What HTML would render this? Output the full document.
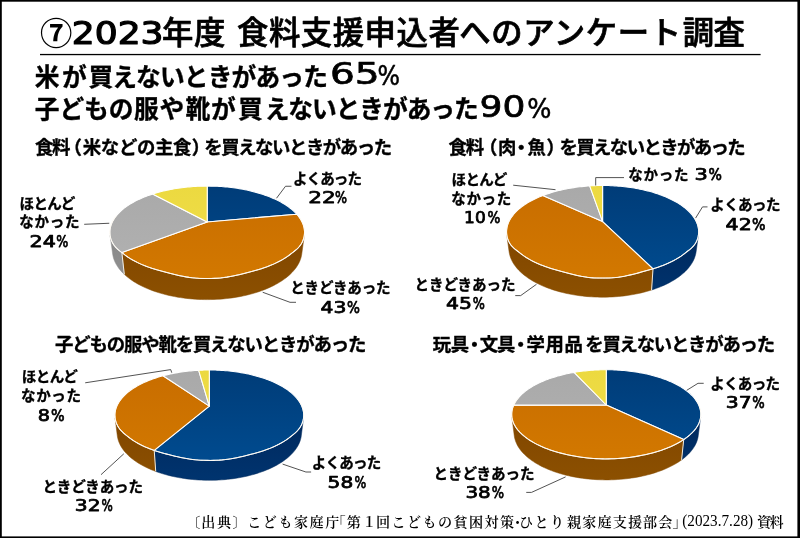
<!DOCTYPE html>
<html lang="ja">
<head>
<meta charset="utf-8">
<title>2023年度 食料支援申込者へのアンケート調査</title>
<style>
html,body{margin:0;padding:0;background:#fff;}
body{width:800px;height:538px;position:relative;overflow:hidden;font-family:"Liberation Sans","Noto Sans CJK JP",sans-serif;}
svg text{white-space:pre;}
</style>
</head>
<body>
<svg width="800" height="538" viewBox="0 0 800 538" style="display:block;position:absolute;left:0;top:0">
<rect x="0" y="0" width="800" height="538" fill="#000"/>
<rect x="1.8" y="1.7" width="795.6" height="534.7" fill="#fff"/>
<rect x="40" y="53.9" width="720.6" height="1.3" fill="#000"/>
<g id="pies">
<defs><linearGradient id="tb0" gradientUnits="userSpaceOnUse" x1="0" y1="186.1" x2="0" y2="278.5"><stop offset="0" stop-color="#003c78"/><stop offset="1" stop-color="#004b8f"/></linearGradient><linearGradient id="wb0" gradientUnits="userSpaceOnUse" x1="0" y1="222.0" x2="0" y2="299.6"><stop offset="0" stop-color="#002659"/><stop offset="1" stop-color="#00346f"/></linearGradient><linearGradient id="to0" gradientUnits="userSpaceOnUse" x1="0" y1="186.1" x2="0" y2="278.5"><stop offset="0" stop-color="#c86d00"/><stop offset="1" stop-color="#d27800"/></linearGradient><linearGradient id="wo0" gradientUnits="userSpaceOnUse" x1="0" y1="222.0" x2="0" y2="299.6"><stop offset="0" stop-color="#7e4400"/><stop offset="1" stop-color="#8c5000"/></linearGradient><linearGradient id="tg0" gradientUnits="userSpaceOnUse" x1="0" y1="186.1" x2="0" y2="278.5"><stop offset="0" stop-color="#a9a9a9"/><stop offset="1" stop-color="#b2b2b2"/></linearGradient><linearGradient id="wg0" gradientUnits="userSpaceOnUse" x1="0" y1="222.0" x2="0" y2="299.6"><stop offset="0" stop-color="#858585"/><stop offset="1" stop-color="#959595"/></linearGradient><linearGradient id="ty0" gradientUnits="userSpaceOnUse" x1="0" y1="186.1" x2="0" y2="278.5"><stop offset="0" stop-color="#ecd940"/><stop offset="1" stop-color="#f1e04e"/></linearGradient><linearGradient id="wy0" gradientUnits="userSpaceOnUse" x1="0" y1="222.0" x2="0" y2="299.6"><stop offset="0" stop-color="#a8992a"/><stop offset="1" stop-color="#b0a030"/></linearGradient></defs>
<path d="M304.32 235.29 L304.11 236.54 L303.83 237.79 L303.47 239.04 L303.04 240.27 L302.53 241.48 L301.95 242.68 L301.28 243.84 L300.54 244.98 L299.71 246.08 L298.81 247.14 L297.82 248.18 L296.75 249.18 L295.60 250.18 L294.37 251.17 L293.06 252.19 L291.66 253.28 L290.18 254.44 L288.62 255.61 L286.98 256.76 L285.26 257.90 L283.45 259.01 L281.57 260.10 L279.61 261.17 L277.57 262.21 L275.46 263.23 L273.27 264.22 L271.01 265.19 L268.67 266.12 L266.27 267.02 L263.80 267.88 L261.27 268.72 L258.67 269.51 L256.01 270.27 L253.29 271.01 L250.52 271.76 L247.70 272.52 L244.83 273.27 L241.91 274.00 L238.95 274.72 L235.95 275.40 L232.91 276.04 L229.84 276.63 L226.75 277.16 L223.63 277.61 L220.49 277.97 L217.33 278.23 L214.16 278.38 L210.98 278.47 L207.80 278.50 L204.61 278.48 L201.43 278.42 L198.25 278.30 L195.09 278.08 L191.94 277.75 L188.82 277.33 L185.71 276.84 L182.63 276.27 L179.58 275.65 L176.57 274.98 L173.59 274.27 L170.66 273.54 L167.77 272.80 L164.93 272.05 L162.14 271.29 L159.40 270.55 L156.72 269.80 L154.10 269.02 L151.54 268.20 L149.04 267.35 L146.62 266.46 L144.26 265.54 L141.97 264.59 L139.75 263.61 L137.61 262.60 L135.54 261.56 L133.55 260.50 L131.64 259.42 L129.81 258.31 L128.06 257.19 L126.38 256.04 L124.79 254.88 L123.28 253.70 L121.86 252.59 L124.31 274.36 L125.71 275.62 L127.19 276.86 L128.74 278.09 L130.38 279.29 L132.09 280.48 L133.88 281.65 L135.74 282.79 L137.68 283.90 L139.70 284.99 L141.78 286.05 L143.94 287.09 L146.17 288.09 L148.46 289.05 L150.82 289.99 L153.25 290.88 L155.73 291.74 L158.28 292.57 L160.88 293.35 L163.54 294.09 L166.24 294.79 L169.00 295.44 L171.80 296.05 L174.65 296.62 L177.53 297.14 L180.45 297.61 L183.41 298.03 L186.39 298.40 L189.40 298.73 L192.43 299.00 L195.48 299.22 L198.54 299.39 L201.61 299.51 L204.69 299.58 L207.78 299.60 L210.86 299.56 L213.94 299.48 L217.01 299.34 L220.07 299.15 L223.11 298.90 L226.13 298.61 L229.13 298.27 L232.10 297.88 L235.04 297.44 L237.95 296.95 L240.82 296.41 L243.65 295.83 L246.44 295.20 L249.17 294.53 L251.86 293.82 L254.50 293.06 L257.08 292.26 L259.60 291.43 L262.07 290.55 L264.47 289.64 L266.80 288.69 L269.07 287.72 L271.27 286.70 L273.41 285.66 L275.46 284.59 L277.45 283.49 L279.36 282.36 L281.20 281.21 L282.96 280.04 L284.64 278.85 L286.25 277.63 L287.77 276.40 L289.22 275.15 L290.59 273.88 L291.88 272.61 L293.09 271.31 L294.22 270.01 L295.27 268.70 L296.25 267.38 L297.14 266.06 L297.96 264.73 L298.69 263.39 L299.36 262.05 L299.94 260.71 L300.45 259.37 L300.89 258.04 L301.25 256.70 L301.54 255.36 L301.75 254.04 Z" fill="url(#wo0)" stroke="#844a00" stroke-width="0.5" stroke-linejoin="round"/>
<path d="M121.86 252.59 L120.56 251.59 L119.35 250.62 L118.20 249.67 L117.14 248.71 L116.15 247.73 L115.23 246.73 L114.39 245.69 L113.62 244.63 L112.93 243.53 L112.31 242.40 L111.76 241.25 L111.29 240.08 L110.88 238.89 L110.54 237.70 L110.28 236.50 L110.08 235.29 L112.65 254.04 L112.85 255.31 L113.13 256.59 L113.47 257.88 L113.88 259.16 L114.35 260.45 L114.90 261.74 L115.52 263.02 L116.20 264.31 L116.96 265.59 L117.80 266.86 L118.70 268.13 L119.68 269.40 L120.72 270.65 L121.85 271.90 L123.04 273.14 L124.31 274.36 Z" fill="url(#wg0)" stroke="#8c8c8c" stroke-width="0.5" stroke-linejoin="round"/>
<path d="M121.86 252.59 L124.31 274.36" stroke="#f6f2ea" stroke-width="1.0" fill="none" opacity="0.95"/>
<path d="M207.20 222.00 L207.20 186.10 L209.23 186.11 L211.25 186.14 L213.27 186.19 L215.29 186.26 L217.31 186.35 L219.33 186.46 L221.34 186.59 L223.35 186.74 L225.35 186.91 L227.35 187.10 L229.34 187.31 L231.32 187.54 L233.30 187.79 L235.26 188.06 L237.22 188.35 L239.17 188.66 L241.11 188.99 L243.03 189.35 L244.95 189.72 L246.85 190.11 L248.74 190.52 L250.61 190.95 L252.47 191.40 L254.32 191.87 L256.14 192.37 L257.95 192.88 L259.75 193.41 L261.52 193.96 L263.27 194.54 L265.00 195.13 L266.71 195.74 L268.40 196.38 L270.06 197.03 L271.70 197.70 L273.31 198.40 L274.90 199.11 L276.46 199.84 L277.99 200.59 L279.49 201.37 L280.96 202.16 L282.39 202.97 L283.80 203.80 L285.17 204.65 L286.50 205.52 L287.80 206.40 L289.06 207.31 L290.28 208.23 L291.46 209.17 L292.59 210.14 L293.69 211.11 L294.74 212.11 L295.74 213.12 L296.70 214.15 Z" fill="url(#tb0)" stroke="#ffffff" stroke-width="1.05" stroke-linejoin="round"/>
<path d="M207.20 222.00 L296.70 214.15 L297.61 215.20 L298.47 216.26 L299.28 217.34 L300.04 218.44 L300.74 219.55 L301.39 220.67 L301.98 221.81 L302.52 222.96 L302.99 224.13 L303.40 225.31 L303.75 226.50 L304.04 227.70 L304.26 228.91 L304.42 230.13 L304.50 231.35 L304.52 232.59 L304.47 233.83 L304.35 235.08 L304.15 236.34 L303.88 237.59 L303.54 238.84 L303.12 240.07 L302.62 241.29 L302.04 242.49 L301.39 243.66 L300.65 244.81 L299.84 245.91 L298.95 246.99 L297.97 248.03 L296.91 249.04 L295.77 250.03 L294.55 251.03 L293.24 252.05 L291.85 253.12 L290.38 254.28 L288.83 255.46 L287.20 256.61 L285.48 257.75 L283.68 258.87 L281.81 259.97 L279.85 261.04 L277.82 262.09 L275.71 263.11 L273.53 264.11 L271.27 265.08 L268.94 266.01 L266.54 266.92 L264.07 267.79 L261.54 268.63 L258.94 269.43 L256.28 270.19 L253.57 270.94 L250.79 271.69 L247.97 272.45 L245.10 273.20 L242.18 273.94 L239.21 274.65 L236.21 275.34 L233.17 275.99 L230.10 276.58 L227.00 277.12 L223.88 277.57 L220.73 277.94 L217.57 278.21 L214.39 278.37 L211.21 278.46 L208.02 278.50 L204.82 278.49 L201.64 278.42 L198.45 278.31 L195.28 278.10 L192.13 277.77 L188.99 277.36 L185.88 276.87 L182.79 276.30 L179.74 275.68 L176.72 275.01 L173.73 274.31 L170.79 273.58 L167.89 272.83 L165.04 272.08 L162.24 271.32 L159.50 270.57 L156.81 269.83 L154.18 269.04 L151.62 268.22 L149.11 267.37 L146.68 266.48 L144.31 265.56 L142.02 264.61 L139.80 263.63 L137.65 262.62 L135.58 261.58 L133.58 260.52 L131.67 259.43 L129.83 258.33 L128.07 257.20 L126.39 256.05 L124.80 254.89 L123.29 253.71 L121.86 252.59 Z" fill="url(#to0)" stroke="#ffffff" stroke-width="1.05" stroke-linejoin="round"/>
<path d="M207.20 222.00 L121.86 252.59 L120.52 251.56 L119.27 250.57 L118.10 249.58 L117.01 248.59 L116.00 247.58 L115.07 246.54 L114.22 245.47 L113.44 244.36 L112.75 243.22 L112.13 242.05 L111.59 240.85 L111.13 239.64 L110.74 238.41 L110.42 237.18 L110.18 235.94 L110.01 234.70 L109.91 233.47 L109.88 232.24 L109.91 231.02 L110.02 229.81 L110.19 228.61 L110.42 227.41 L110.72 226.23 L111.08 225.06 L111.50 223.90 L111.98 222.75 L112.52 221.61 L113.11 220.49 L113.76 219.38 L114.46 218.28 L115.22 217.20 L116.03 216.14 L116.88 215.09 L117.79 214.05 L118.74 213.04 L119.74 212.03 L120.78 211.05 L121.87 210.08 L123.00 209.13 L124.16 208.20 L125.37 207.29 L126.62 206.39 L127.90 205.51 L129.22 204.65 L130.58 203.81 L131.97 202.99 L133.39 202.19 L134.84 201.40 L136.32 200.64 L137.84 199.89 L139.38 199.17 L140.94 198.46 L142.54 197.77 L144.16 197.10 L145.80 196.45 L147.47 195.83 L149.16 195.22 L150.87 194.63 L152.60 194.06 Z" fill="url(#tg0)" stroke="#ffffff" stroke-width="1.05" stroke-linejoin="round"/>
<path d="M207.20 222.00 L152.60 194.06 L154.32 193.52 L156.05 192.99 L157.80 192.49 L159.57 192.01 L161.36 191.55 L163.16 191.10 L164.98 190.67 L166.81 190.27 L168.65 189.88 L170.50 189.51 L172.37 189.16 L174.24 188.83 L176.13 188.52 L178.03 188.22 L179.93 187.95 L181.85 187.70 L183.77 187.46 L185.70 187.24 L187.63 187.04 L189.57 186.86 L191.52 186.70 L193.47 186.56 L195.42 186.44 L197.38 186.34 L199.34 186.25 L201.30 186.18 L203.27 186.14 L205.23 186.11 L207.20 186.10 Z" fill="url(#ty0)" stroke="#ffffff" stroke-width="1.05" stroke-linejoin="round"/>
<path d="M298.03 215.70 L298.86 216.77 L299.65 217.86 L300.38 218.95 L301.05 220.07 L301.67 221.19 L302.23 222.34 L302.74 223.49 L303.18 224.66 L303.57 225.83 L303.89 227.02 L304.15 228.23 L304.34 229.44 L304.46 230.66 L304.52 231.88 L304.51 233.12 L304.43 234.36 L304.27 235.61 L304.05 236.86 L303.75 238.10 L303.37 239.34 L302.92 240.57 L302.40 241.78 L301.79 242.96 L301.11 244.12 L300.34 245.25 L299.50 246.34 L298.58 247.39 L297.57 248.42 L296.49 249.42 L295.32 250.41 L294.07 251.41 L292.74 252.44 L291.32 253.54 L289.83 254.71 L288.25 255.87 L286.59 257.02 L284.86 258.15 L283.04 259.26 L281.14 260.34 L279.16 261.40 L277.11 262.44 L274.99 263.45 L272.78 264.44 L270.51 265.39 L268.16 266.31 L265.75 267.20 L263.27 268.06 L260.72 268.89 L258.12 269.67 L255.45 270.42 L252.72 271.17 L249.95 271.92 L247.12 272.67 L244.24 273.42 L241.31 274.15 L238.35 274.86 L235.35 275.53 L232.31 276.16 L229.24 276.74 L226.14 277.25 L223.02 277.68 L219.88 278.03 L216.72 278.27 L213.56 278.40 L210.38 278.48 L207.20 278.50 L204.02 278.48 L200.84 278.40 L197.68 278.27 L194.52 278.03 L191.38 277.68 L188.26 277.25 L185.16 276.74 L182.09 276.16 L179.05 275.53 L176.05 274.86 L173.09 274.15 L170.16 273.42 L167.28 272.67 L164.45 271.92 L161.68 271.17 L158.95 270.42 L156.28 269.67 L153.68 268.89 L151.13 268.06 L148.65 267.20 L146.24 266.31 L143.89 265.39 L141.62 264.44 L139.41 263.45 L137.29 262.44 L135.24 261.40 L133.26 260.34 L131.36 259.26 L129.54 258.15 L127.81 257.02 L126.15 255.87 L124.57 254.71 L123.08 253.54 L121.66 252.44 L120.33 251.41 L119.08 250.41 L117.91 249.42 L116.83 248.42 L115.82 247.39 L114.90 246.34 L114.06 245.25 L113.29 244.12 L112.61 242.96 L112.00 241.78 L111.48 240.57 L111.03 239.34 L110.65 238.10 L110.35 236.86 L110.13 235.61 L109.97 234.36 L109.89 233.12 L109.88 231.88 L109.94 230.66 L110.06 229.44 L110.25 228.23 L110.51 227.02 L110.83 225.83 L111.22 224.66 L111.66 223.49 L112.17 222.34 L112.73 221.19 L113.35 220.07 L114.02 218.95 L114.75 217.86 L115.54 216.77 L116.37 215.70" fill="none" stroke="#fffaf0" stroke-width="0.95" opacity="0.85"/>
<defs><linearGradient id="tb1" gradientUnits="userSpaceOnUse" x1="0" y1="185.5" x2="0" y2="278.1"><stop offset="0" stop-color="#003c78"/><stop offset="1" stop-color="#004b8f"/></linearGradient><linearGradient id="wb1" gradientUnits="userSpaceOnUse" x1="0" y1="221.6" x2="0" y2="297.2"><stop offset="0" stop-color="#002659"/><stop offset="1" stop-color="#00346f"/></linearGradient><linearGradient id="to1" gradientUnits="userSpaceOnUse" x1="0" y1="185.5" x2="0" y2="278.1"><stop offset="0" stop-color="#c86d00"/><stop offset="1" stop-color="#d27800"/></linearGradient><linearGradient id="wo1" gradientUnits="userSpaceOnUse" x1="0" y1="221.6" x2="0" y2="297.2"><stop offset="0" stop-color="#7e4400"/><stop offset="1" stop-color="#8c5000"/></linearGradient><linearGradient id="tg1" gradientUnits="userSpaceOnUse" x1="0" y1="185.5" x2="0" y2="278.1"><stop offset="0" stop-color="#a9a9a9"/><stop offset="1" stop-color="#b2b2b2"/></linearGradient><linearGradient id="wg1" gradientUnits="userSpaceOnUse" x1="0" y1="221.6" x2="0" y2="297.2"><stop offset="0" stop-color="#858585"/><stop offset="1" stop-color="#959595"/></linearGradient><linearGradient id="ty1" gradientUnits="userSpaceOnUse" x1="0" y1="185.5" x2="0" y2="278.1"><stop offset="0" stop-color="#ecd940"/><stop offset="1" stop-color="#f1e04e"/></linearGradient><linearGradient id="wy1" gradientUnits="userSpaceOnUse" x1="0" y1="221.6" x2="0" y2="297.2"><stop offset="0" stop-color="#a8992a"/><stop offset="1" stop-color="#b0a030"/></linearGradient></defs>
<path d="M698.44 234.89 L698.23 236.10 L697.96 237.32 L697.62 238.53 L697.21 239.72 L696.72 240.90 L696.16 242.05 L695.53 243.17 L694.83 244.26 L694.05 245.31 L693.20 246.32 L692.27 247.29 L691.26 248.23 L690.18 249.15 L689.02 250.08 L687.79 251.02 L686.47 252.02 L685.09 253.12 L683.62 254.27 L682.08 255.40 L680.47 256.51 L678.78 257.60 L677.01 258.68 L675.17 259.73 L673.26 260.76 L671.28 261.77 L669.22 262.75 L667.10 263.71 L664.91 264.63 L662.66 265.53 L660.34 266.40 L657.96 267.24 L655.52 268.04 L653.01 268.81 L651.57 290.01 L654.00 289.21 L656.38 288.37 L658.70 287.49 L660.96 286.58 L663.15 285.65 L665.29 284.68 L667.36 283.68 L669.36 282.65 L671.30 281.59 L673.16 280.52 L674.96 279.41 L676.68 278.29 L678.34 277.14 L679.92 275.98 L681.43 274.79 L682.86 273.59 L684.23 272.38 L685.51 271.15 L686.73 269.91 L687.87 268.65 L688.93 267.39 L689.92 266.12 L690.84 264.84 L691.68 263.56 L692.46 262.27 L693.15 260.97 L693.78 259.68 L694.34 258.38 L694.82 257.08 L695.24 255.79 L695.59 254.49 L695.86 253.20 L696.08 251.91 Z" fill="url(#wb1)" stroke="#00295b" stroke-width="0.5" stroke-linejoin="round"/>
<path d="M653.01 268.81 L650.42 269.55 L647.76 270.30 L645.06 271.06 L642.30 271.82 L639.50 272.59 L636.65 273.36 L633.77 274.10 L630.84 274.82 L627.89 275.49 L624.90 276.12 L621.88 276.68 L618.84 277.15 L615.78 277.54 L612.71 277.82 L609.62 277.98 L606.52 278.06 L603.42 278.10 L600.32 278.09 L597.22 278.03 L594.13 277.92 L591.05 277.70 L587.98 277.37 L584.93 276.94 L581.90 276.42 L578.90 275.83 L575.92 275.18 L572.98 274.49 L570.07 273.75 L567.20 273.00 L564.38 272.23 L561.60 271.46 L558.87 270.70 L556.18 269.95 L553.56 269.21 L550.99 268.45 L548.47 267.65 L546.02 266.81 L543.63 265.95 L541.31 265.05 L539.06 264.12 L536.87 263.16 L534.75 262.17 L532.71 261.16 L530.74 260.12 L528.84 259.06 L527.02 257.97 L525.28 256.87 L523.61 255.74 L522.02 254.60 L520.51 253.44 L519.08 252.30 L517.73 251.26 L516.45 250.29 L515.26 249.35 L514.14 248.41 L513.11 247.46 L512.15 246.48 L511.27 245.46 L510.47 244.40 L509.74 243.30 L509.09 242.16 L508.52 240.99 L508.02 239.80 L507.60 238.59 L507.25 237.36 L506.97 236.12 L506.76 234.89 L509.12 251.91 L509.34 253.22 L509.62 254.53 L509.98 255.85 L510.41 257.17 L510.91 258.49 L511.48 259.81 L512.12 261.12 L512.84 262.44 L513.64 263.75 L514.51 265.05 L515.45 266.35 L516.47 267.64 L517.57 268.92 L518.74 270.19 L520.00 271.45 L521.32 272.70 L522.73 273.93 L524.21 275.14 L525.76 276.34 L527.39 277.52 L529.10 278.68 L530.88 279.81 L532.73 280.92 L534.66 282.01 L536.65 283.07 L538.71 284.10 L540.85 285.11 L543.04 286.08 L545.31 287.02 L547.63 287.92 L550.02 288.80 L552.47 289.63 L554.97 290.43 L557.52 291.18 L560.13 291.90 L562.79 292.58 L565.49 293.21 L568.24 293.80 L571.02 294.35 L573.85 294.85 L576.70 295.30 L579.59 295.71 L582.51 296.07 L585.45 296.38 L588.41 296.64 L591.39 296.85 L594.38 297.01 L597.38 297.12 L600.39 297.19 L603.40 297.20 L606.41 297.16 L609.41 297.07 L612.41 296.93 L615.40 296.74 L618.36 296.50 L621.32 296.22 L624.24 295.88 L627.15 295.50 L630.02 295.06 L632.86 294.59 L635.66 294.06 L638.43 293.49 L641.15 292.88 L643.83 292.22 L646.46 291.53 L649.04 290.79 L651.57 290.01 Z" fill="url(#wo1)" stroke="#844a00" stroke-width="0.5" stroke-linejoin="round"/>
<path d="M653.01 268.81 L651.57 290.01" stroke="#f6f2ea" stroke-width="1.0" fill="none" opacity="0.95"/>
<path d="M602.60 221.60 L602.60 185.50 L604.61 185.51 L606.62 185.54 L608.63 185.59 L610.63 185.66 L612.63 185.75 L614.63 185.86 L616.63 186.00 L618.62 186.15 L620.61 186.32 L622.59 186.51 L624.56 186.73 L626.53 186.96 L628.49 187.21 L630.44 187.49 L632.38 187.78 L634.31 188.10 L636.24 188.43 L638.15 188.79 L640.04 189.16 L641.93 189.56 L643.80 189.98 L645.66 190.41 L647.50 190.87 L649.33 191.35 L651.14 191.85 L652.93 192.37 L654.70 192.90 L656.46 193.46 L658.19 194.04 L659.91 194.64 L661.60 195.26 L663.27 195.90 L664.91 196.57 L666.53 197.25 L668.13 197.95 L669.69 198.67 L671.23 199.41 L672.74 200.17 L674.22 200.95 L675.67 201.75 L677.09 202.57 L678.47 203.41 L679.82 204.27 L681.14 205.15 L682.41 206.04 L683.65 206.96 L684.85 207.89 L686.01 208.84 L687.13 209.81 L688.20 210.80 L689.23 211.81 L690.22 212.83 L691.15 213.87 L692.04 214.92 L692.88 216.00 L693.67 217.08 L694.40 218.19 L695.09 219.30 L695.71 220.44 L696.28 221.58 L696.79 222.74 L697.25 223.91 L697.64 225.10 L697.97 226.29 L698.23 227.50 L698.44 228.72 L698.57 229.94 L698.64 231.18 L698.64 232.42 L698.57 233.67 L698.43 234.92 L698.22 236.18 L697.93 237.43 L697.57 238.67 L697.14 239.90 L696.63 241.11 L696.04 242.29 L695.37 243.44 L694.62 244.55 L693.80 245.62 L692.90 246.64 L691.91 247.63 L690.84 248.60 L689.70 249.54 L688.47 250.50 L687.16 251.50 L685.77 252.57 L684.30 253.75 L682.75 254.92 L681.11 256.07 L679.40 257.21 L677.61 258.32 L675.74 259.41 L673.79 260.48 L671.77 261.53 L669.67 262.54 L667.49 263.53 L665.25 264.50 L662.94 265.43 L660.55 266.32 L658.10 267.19 L655.59 268.02 L653.01 268.81 Z" fill="url(#tb1)" stroke="#ffffff" stroke-width="1.05" stroke-linejoin="round"/>
<path d="M602.60 221.60 L653.01 268.81 L650.39 269.56 L647.71 270.31 L644.97 271.08 L642.19 271.85 L639.36 272.63 L636.48 273.40 L633.56 274.15 L630.61 274.87 L627.61 275.55 L624.59 276.18 L621.54 276.73 L618.47 277.21 L615.38 277.58 L612.27 277.85 L609.15 277.99 L606.02 278.07 L602.89 278.10 L599.76 278.08 L596.63 278.01 L593.50 277.88 L590.39 277.64 L587.30 277.28 L584.22 276.83 L581.17 276.29 L578.14 275.67 L575.14 275.00 L572.18 274.29 L569.26 273.54 L566.37 272.78 L563.53 272.00 L560.74 271.22 L557.99 270.45 L555.30 269.70 L552.66 268.95 L550.09 268.17 L547.57 267.35 L545.12 266.49 L542.73 265.61 L540.41 264.69 L538.16 263.73 L535.98 262.75 L533.87 261.74 L531.84 260.71 L529.88 259.65 L528.00 258.57 L526.20 257.46 L524.48 256.33 L522.83 255.19 L521.26 254.03 L519.78 252.85 L518.37 251.75 L517.05 250.74 L515.80 249.78 L514.64 248.84 L513.56 247.88 L512.56 246.91 L511.63 245.89 L510.79 244.84 L510.03 243.74 L509.34 242.61 L508.73 241.44 L508.20 240.25 L507.75 239.03 L507.36 237.79 L507.06 236.55 L506.82 235.30 L506.66 234.05 L506.57 232.80 L506.55 231.56 L506.60 230.33 L506.71 229.10 L506.89 227.89 L507.14 226.68 L507.45 225.49 L507.82 224.30 L508.25 223.13 L508.74 221.97 L509.29 220.83 L509.89 219.69 L510.55 218.57 L511.27 217.47 L512.03 216.38 L512.85 215.31 L513.72 214.25 L514.64 213.21 L515.60 212.18 L516.61 211.17 L517.66 210.18 L518.76 209.21 L519.90 208.25 L521.08 207.32 L522.30 206.40 L523.55 205.50 L524.85 204.62 L526.18 203.75 L527.54 202.91 L528.94 202.08 L530.37 201.28 L531.84 200.49 L533.33 199.73 L534.85 198.98 L536.40 198.25 L537.98 197.55 L539.58 196.86 L541.21 196.19 L542.86 195.54 Z" fill="url(#to1)" stroke="#ffffff" stroke-width="1.05" stroke-linejoin="round"/>
<path d="M602.60 221.60 L542.86 195.54 L544.54 194.91 L546.25 194.31 L547.97 193.72 L549.72 193.15 L551.48 192.60 L553.27 192.07 L555.07 191.57 L556.89 191.08 L558.73 190.61 L560.58 190.17 L562.44 189.74 L564.32 189.34 L566.21 188.95 L568.12 188.59 L570.04 188.24 L571.96 187.92 L573.90 187.62 L575.85 187.33 L577.80 187.07 L579.77 186.83 L581.74 186.61 L583.72 186.40 L585.70 186.22 L587.69 186.06 L589.68 185.92 Z" fill="url(#tg1)" stroke="#ffffff" stroke-width="1.05" stroke-linejoin="round"/>
<path d="M602.60 221.60 L589.68 185.92 L591.52 185.81 L593.36 185.71 L595.21 185.64 L597.05 185.58 L598.90 185.53 L600.75 185.51 L602.60 185.50 Z" fill="url(#ty1)" stroke="#ffffff" stroke-width="1.05" stroke-linejoin="round"/>
<path d="M692.30 215.24 L693.12 216.32 L693.89 217.40 L694.61 218.51 L695.27 219.62 L695.88 220.76 L696.43 221.90 L696.92 223.06 L697.36 224.23 L697.73 225.41 L698.04 226.61 L698.29 227.81 L698.48 229.02 L698.60 230.25 L698.65 231.48 L698.63 232.72 L698.55 233.96 L698.39 235.21 L698.16 236.46 L697.86 237.71 L697.48 238.94 L697.03 240.16 L696.51 241.36 L695.91 242.53 L695.23 243.67 L694.47 244.76 L693.63 245.82 L692.71 246.83 L691.72 247.81 L690.64 248.77 L689.49 249.71 L688.25 250.67 L686.93 251.67 L685.53 252.76 L684.05 253.94 L682.49 255.10 L680.85 256.25 L679.14 257.37 L677.34 258.48 L675.47 259.57 L673.52 260.63 L671.49 261.66 L669.39 262.67 L667.22 263.66 L664.97 264.61 L662.66 265.53 L660.28 266.42 L657.83 267.28 L655.32 268.10 L652.75 268.89 L650.12 269.64 L647.44 270.39 L644.70 271.16 L641.91 271.93 L639.08 272.71 L636.20 273.48 L633.28 274.23 L630.32 274.94 L627.33 275.62 L624.30 276.23 L621.25 276.78 L618.18 277.25 L615.09 277.61 L611.98 277.87 L608.86 278.00 L605.73 278.08 L602.60 278.10 L599.47 278.08 L596.34 278.00 L593.22 277.87 L590.11 277.61 L587.02 277.25 L583.95 276.78 L580.90 276.23 L577.87 275.62 L574.88 274.94 L571.92 274.23 L569.00 273.48 L566.12 272.71 L563.29 271.93 L560.50 271.16 L557.76 270.39 L555.08 269.64 L552.45 268.89 L549.88 268.10 L547.37 267.28 L544.92 266.42 L542.54 265.53 L540.23 264.61 L537.98 263.66 L535.81 262.67 L533.71 261.66 L531.68 260.63 L529.73 259.57 L527.86 258.48 L526.06 257.37 L524.35 256.25 L522.71 255.10 L521.15 253.94 L519.67 252.76 L518.27 251.67 L516.95 250.67 L515.71 249.71 L514.56 248.77 L513.48 247.81 L512.49 246.83 L511.57 245.82 L510.73 244.76 L509.97 243.67 L509.29 242.53 L508.69 241.36 L508.17 240.16 L507.72 238.94 L507.34 237.71 L507.04 236.46 L506.81 235.21 L506.65 233.96 L506.57 232.72 L506.55 231.48 L506.60 230.25 L506.72 229.02 L506.91 227.81 L507.16 226.61 L507.47 225.41 L507.84 224.23 L508.28 223.06 L508.77 221.90 L509.32 220.76 L509.93 219.62 L510.59 218.51 L511.31 217.40 L512.08 216.32 L512.90 215.24" fill="none" stroke="#fffaf0" stroke-width="0.95" opacity="0.85"/>
<defs><linearGradient id="tb2" gradientUnits="userSpaceOnUse" x1="0" y1="370.0" x2="0" y2="460.4"><stop offset="0" stop-color="#003c78"/><stop offset="1" stop-color="#004b8f"/></linearGradient><linearGradient id="wb2" gradientUnits="userSpaceOnUse" x1="0" y1="406.1" x2="0" y2="480.3"><stop offset="0" stop-color="#002659"/><stop offset="1" stop-color="#00346f"/></linearGradient><linearGradient id="to2" gradientUnits="userSpaceOnUse" x1="0" y1="370.0" x2="0" y2="460.4"><stop offset="0" stop-color="#c86d00"/><stop offset="1" stop-color="#d27800"/></linearGradient><linearGradient id="wo2" gradientUnits="userSpaceOnUse" x1="0" y1="406.1" x2="0" y2="480.3"><stop offset="0" stop-color="#7e4400"/><stop offset="1" stop-color="#8c5000"/></linearGradient><linearGradient id="tg2" gradientUnits="userSpaceOnUse" x1="0" y1="370.0" x2="0" y2="460.4"><stop offset="0" stop-color="#a9a9a9"/><stop offset="1" stop-color="#b2b2b2"/></linearGradient><linearGradient id="wg2" gradientUnits="userSpaceOnUse" x1="0" y1="406.1" x2="0" y2="480.3"><stop offset="0" stop-color="#858585"/><stop offset="1" stop-color="#959595"/></linearGradient><linearGradient id="ty2" gradientUnits="userSpaceOnUse" x1="0" y1="370.0" x2="0" y2="460.4"><stop offset="0" stop-color="#ecd940"/><stop offset="1" stop-color="#f1e04e"/></linearGradient><linearGradient id="wy2" gradientUnits="userSpaceOnUse" x1="0" y1="406.1" x2="0" y2="480.3"><stop offset="0" stop-color="#a8992a"/><stop offset="1" stop-color="#b0a030"/></linearGradient></defs>
<path d="M303.53 417.91 L303.34 419.12 L303.09 420.33 L302.76 421.54 L302.36 422.75 L301.89 423.94 L301.34 425.11 L300.72 426.27 L300.03 427.40 L299.26 428.51 L298.41 429.59 L297.49 430.64 L296.49 431.67 L295.42 432.68 L294.27 433.69 L293.04 434.71 L291.74 435.76 L290.35 436.87 L288.90 438.00 L287.36 439.12 L285.75 440.21 L284.07 441.29 L282.31 442.35 L280.48 443.39 L278.58 444.40 L276.61 445.39 L274.56 446.36 L272.45 447.30 L270.27 448.21 L268.03 449.09 L265.73 449.94 L263.36 450.76 L260.93 451.54 L258.45 452.29 L255.91 453.01 L253.32 453.71 L250.68 454.41 L247.99 455.11 L245.26 455.79 L242.49 456.44 L239.67 457.08 L236.83 457.68 L233.95 458.24 L231.04 458.75 L228.11 459.20 L225.15 459.59 L222.18 459.90 L219.19 460.14 L216.19 460.28 L213.18 460.36 L210.16 460.40 L207.15 460.39 L204.13 460.33 L201.13 460.23 L198.13 460.05 L195.15 459.78 L192.18 459.43 L189.23 459.01 L186.31 458.53 L183.41 458.00 L180.55 457.42 L177.72 456.81 L174.92 456.17 L172.17 455.50 L169.45 454.81 L166.79 454.11 L164.17 453.41 L161.60 452.70 L159.08 451.97 L156.62 451.21 L154.22 450.41 L155.72 471.43 L158.06 472.27 L160.45 473.07 L162.90 473.83 L165.41 474.56 L167.96 475.24 L170.55 475.89 L173.19 476.50 L175.87 477.06 L178.59 477.58 L181.35 478.06 L184.14 478.49 L186.95 478.88 L189.79 479.22 L192.66 479.52 L195.54 479.77 L198.44 479.97 L201.36 480.12 L204.28 480.23 L207.21 480.29 L210.14 480.30 L213.07 480.26 L215.99 480.17 L218.91 480.04 L221.82 479.86 L224.71 479.63 L227.58 479.35 L230.43 479.03 L233.26 478.66 L236.06 478.25 L238.83 477.79 L241.56 477.29 L244.26 476.74 L246.92 476.15 L249.54 475.52 L252.11 474.85 L254.63 474.15 L257.10 473.40 L259.52 472.61 L261.89 471.79 L264.19 470.94 L266.44 470.05 L268.63 469.13 L270.76 468.17 L272.82 467.19 L274.81 466.18 L276.74 465.15 L278.60 464.08 L280.39 463.00 L282.11 461.89 L283.75 460.76 L285.33 459.61 L286.83 458.44 L288.26 457.26 L289.62 456.05 L290.90 454.84 L292.10 453.61 L293.24 452.37 L294.29 451.12 L295.28 449.86 L296.19 448.59 L297.02 447.32 L297.78 446.04 L298.47 444.76 L299.09 443.47 L299.63 442.18 L300.10 440.89 L300.51 439.61 L300.84 438.32 L301.10 437.03 L301.29 435.75 Z" fill="url(#wb2)" stroke="#00295b" stroke-width="0.5" stroke-linejoin="round"/>
<path d="M154.22 450.41 L151.91 449.59 L149.66 448.74 L147.47 447.86 L145.35 446.95 L143.29 446.01 L141.30 445.05 L139.38 444.07 L137.53 443.06 L135.74 442.03 L134.03 440.98 L132.39 439.91 L130.83 438.82 L129.33 437.72 L127.91 436.60 L126.57 435.53 L125.30 434.50 L124.10 433.50 L122.98 432.50 L121.94 431.50 L120.96 430.48 L120.07 429.44 L119.24 428.37 L118.49 427.28 L117.81 426.16 L117.21 425.02 L116.68 423.86 L116.22 422.68 L115.83 421.49 L115.51 420.30 L115.25 419.10 L115.07 417.91 L117.31 435.75 L117.50 437.02 L117.75 438.28 L118.08 439.55 L118.47 440.82 L118.93 442.09 L119.46 443.36 L120.06 444.63 L120.74 445.90 L121.48 447.16 L122.29 448.42 L123.18 449.67 L124.14 450.91 L125.17 452.15 L126.27 453.37 L127.45 454.58 L128.69 455.79 L130.01 456.97 L131.40 458.15 L132.87 459.30 L134.40 460.44 L136.01 461.56 L137.68 462.66 L139.43 463.74 L141.24 464.80 L143.12 465.83 L145.06 466.83 L147.07 467.81 L149.14 468.76 L151.27 469.68 L153.47 470.57 L155.72 471.43 Z" fill="url(#wo2)" stroke="#844a00" stroke-width="0.5" stroke-linejoin="round"/>
<path d="M154.22 450.41 L155.72 471.43" stroke="#f6f2ea" stroke-width="1.0" fill="none" opacity="0.95"/>
<path d="M209.30 406.10 L209.30 370.00 L211.31 370.01 L213.32 370.04 L215.33 370.09 L217.33 370.16 L219.33 370.26 L221.33 370.37 L223.33 370.50 L225.32 370.66 L227.30 370.83 L229.28 371.02 L231.25 371.24 L233.22 371.47 L235.17 371.73 L237.12 372.01 L239.06 372.30 L240.98 372.62 L242.90 372.96 L244.80 373.32 L246.69 373.70 L248.57 374.10 L250.43 374.52 L252.27 374.96 L254.10 375.42 L255.92 375.90 L257.71 376.40 L259.49 376.92 L261.25 377.46 L262.99 378.02 L264.70 378.60 L266.40 379.20 L268.07 379.83 L269.71 380.47 L271.34 381.13 L272.93 381.81 L274.50 382.51 L276.04 383.23 L277.55 383.97 L279.03 384.73 L280.48 385.51 L281.90 386.31 L283.28 387.13 L284.63 387.96 L285.95 388.82 L287.23 389.69 L288.47 390.58 L289.67 391.49 L290.83 392.41 L291.95 393.36 L293.02 394.32 L294.05 395.29 L295.04 396.29 L295.98 397.30 L296.87 398.32 L297.72 399.37 L298.51 400.42 L299.25 401.49 L299.94 402.58 L300.58 403.68 L301.16 404.79 L301.69 405.91 L302.15 407.05 L302.56 408.20 L302.91 409.35 L303.19 410.52 L303.42 411.70 L303.58 412.89 L303.67 414.08 L303.70 415.28 L303.66 416.49 L303.55 417.71 L303.38 418.92 L303.13 420.14 L302.82 421.35 L302.43 422.56 L301.96 423.76 L301.43 424.94 L300.82 426.10 L300.13 427.24 L299.37 428.35 L298.54 429.43 L297.62 430.49 L296.64 431.53 L295.57 432.55 L294.43 433.56 L293.20 434.58 L291.91 435.63 L290.53 436.73 L289.08 437.86 L287.55 438.98 L285.95 440.08 L284.27 441.17 L282.52 442.23 L280.69 443.27 L278.79 444.29 L276.82 445.29 L274.78 446.26 L272.67 447.20 L270.49 448.12 L268.25 449.00 L265.95 449.86 L263.58 450.68 L261.15 451.47 L258.67 452.23 L256.13 452.95 L253.53 453.65 L250.89 454.36 L248.20 455.05 L245.47 455.73 L242.69 456.40 L239.87 457.03 L237.02 457.64 L234.14 458.20 L231.23 458.72 L228.29 459.17 L225.33 459.57 L222.35 459.89 L219.35 460.13 L216.34 460.27 L213.33 460.36 L210.30 460.40 L207.28 460.39 L204.26 460.34 L201.25 460.23 L198.24 460.06 L195.25 459.79 L192.28 459.44 L189.32 459.03 L186.39 458.55 L183.49 458.02 L180.62 457.44 L177.78 456.82 L174.97 456.18 L172.21 455.51 L169.49 454.82 L166.82 454.12 L164.19 453.42 L161.61 452.71 L159.09 451.98 L156.63 451.21 L154.22 450.41 Z" fill="url(#tb2)" stroke="#ffffff" stroke-width="1.05" stroke-linejoin="round"/>
<path d="M209.30 406.10 L154.22 450.41 L151.88 449.58 L149.60 448.71 L147.38 447.82 L145.23 446.90 L143.15 445.95 L141.13 444.97 L139.19 443.97 L137.32 442.94 L135.52 441.90 L133.79 440.83 L132.14 439.74 L130.56 438.63 L129.06 437.51 L127.64 436.38 L126.29 435.30 L125.02 434.27 L123.82 433.25 L122.70 432.24 L121.66 431.22 L120.70 430.18 L119.81 429.12 L119.00 428.03 L118.26 426.91 L117.60 425.76 L117.01 424.60 L116.50 423.42 L116.06 422.22 L115.69 421.01 L115.39 419.80 L115.17 418.58 L115.01 417.37 L114.92 416.16 L114.90 414.96 L114.95 413.76 L115.06 412.57 L115.24 411.39 L115.48 410.21 L115.78 409.05 L116.14 407.90 L116.56 406.75 L117.04 405.62 L117.58 404.50 L118.18 403.40 L118.82 402.30 L119.53 401.22 L120.28 400.16 L121.08 399.11 L121.94 398.07 L122.84 397.05 L123.79 396.05 L124.79 395.06 L125.83 394.09 L126.91 393.13 L128.04 392.20 L129.21 391.28 L130.41 390.37 L131.66 389.49 L132.94 388.62 L134.26 387.77 L135.62 386.94 L137.01 386.13 L138.43 385.34 L139.88 384.57 L141.37 383.81 L142.88 383.08 L144.43 382.36 L146.00 381.67 L147.59 380.99 L149.22 380.34 L150.87 379.70 L152.54 379.08 L154.23 378.49 L155.95 377.91 L157.69 377.35 L159.45 376.82 L161.22 376.30 L163.02 375.80 Z" fill="url(#to2)" stroke="#ffffff" stroke-width="1.05" stroke-linejoin="round"/>
<path d="M209.30 406.10 L163.02 375.80 L164.79 375.34 L166.58 374.89 L168.38 374.47 L170.20 374.06 L172.02 373.67 L173.87 373.30 L175.72 372.96 L177.59 372.63 L179.47 372.32 L181.35 372.03 L183.25 371.76 L185.15 371.50 L187.07 371.27 L188.99 371.06 L190.91 370.87 L192.85 370.69 L194.79 370.54 L196.73 370.40 L198.68 370.29 Z" fill="url(#tg2)" stroke="#ffffff" stroke-width="1.05" stroke-linejoin="round"/>
<path d="M209.30 406.10 L198.68 370.29 L200.44 370.20 L202.21 370.13 L203.98 370.07 L205.75 370.03 L207.53 370.01 L209.30 370.00 Z" fill="url(#ty2)" stroke="#ffffff" stroke-width="1.05" stroke-linejoin="round"/>
<path d="M297.26 398.79 L298.08 399.84 L298.85 400.90 L299.57 401.98 L300.23 403.07 L300.85 404.17 L301.40 405.28 L301.90 406.41 L302.34 407.55 L302.72 408.70 L303.04 409.86 L303.30 411.03 L303.49 412.21 L303.63 413.40 L303.69 414.59 L303.69 415.80 L303.62 417.01 L303.49 418.22 L303.28 419.43 L303.01 420.65 L302.66 421.86 L302.24 423.06 L301.75 424.25 L301.19 425.42 L300.55 426.57 L299.83 427.69 L299.04 428.79 L298.18 429.87 L297.24 430.91 L296.22 431.94 L295.12 432.95 L293.95 433.96 L292.70 434.99 L291.37 436.05 L289.97 437.17 L288.49 438.30 L286.94 439.41 L285.31 440.50 L283.60 441.58 L281.83 442.63 L279.98 443.66 L278.05 444.67 L276.06 445.66 L274.00 446.62 L271.87 447.55 L269.67 448.45 L267.41 449.32 L265.08 450.16 L262.70 450.97 L260.25 451.75 L257.75 452.49 L255.20 453.20 L252.59 453.91 L249.94 454.61 L247.23 455.30 L244.49 455.97 L241.70 456.62 L238.88 457.25 L236.02 457.84 L233.13 458.38 L230.22 458.88 L227.27 459.32 L224.31 459.69 L221.33 459.98 L218.34 460.19 L215.33 460.31 L212.32 460.38 L209.30 460.40 L206.28 460.38 L203.27 460.31 L200.26 460.19 L197.27 459.98 L194.29 459.69 L191.33 459.32 L188.38 458.88 L185.47 458.38 L182.58 457.84 L179.72 457.25 L176.90 456.62 L174.11 455.97 L171.37 455.30 L168.66 454.61 L166.01 453.91 L163.40 453.20 L160.85 452.49 L158.35 451.75 L155.90 450.97 L153.52 450.16 L151.19 449.32 L148.93 448.45 L146.73 447.55 L144.60 446.62 L142.54 445.66 L140.55 444.67 L138.62 443.66 L136.77 442.63 L135.00 441.58 L133.29 440.50 L131.66 439.41 L130.11 438.30 L128.63 437.17 L127.23 436.05 L125.90 434.99 L124.65 433.96 L123.48 432.95 L122.38 431.94 L121.36 430.91 L120.42 429.87 L119.56 428.79 L118.77 427.69 L118.05 426.57 L117.41 425.42 L116.85 424.25 L116.36 423.06 L115.94 421.86 L115.59 420.65 L115.32 419.43 L115.11 418.22 L114.98 417.01 L114.91 415.80 L114.91 414.59 L114.97 413.40 L115.11 412.21 L115.30 411.03 L115.56 409.86 L115.88 408.70 L116.26 407.55 L116.70 406.41 L117.20 405.28 L117.75 404.17 L118.37 403.07 L119.03 401.98 L119.75 400.90 L120.52 399.84 L121.34 398.79" fill="none" stroke="#fffaf0" stroke-width="0.95" opacity="0.85"/>
<defs><linearGradient id="tb3" gradientUnits="userSpaceOnUse" x1="0" y1="369.8" x2="0" y2="458.9"><stop offset="0" stop-color="#003c78"/><stop offset="1" stop-color="#004b8f"/></linearGradient><linearGradient id="wb3" gradientUnits="userSpaceOnUse" x1="0" y1="405.0" x2="0" y2="479.9"><stop offset="0" stop-color="#002659"/><stop offset="1" stop-color="#00346f"/></linearGradient><linearGradient id="to3" gradientUnits="userSpaceOnUse" x1="0" y1="369.8" x2="0" y2="458.9"><stop offset="0" stop-color="#c86d00"/><stop offset="1" stop-color="#d27800"/></linearGradient><linearGradient id="wo3" gradientUnits="userSpaceOnUse" x1="0" y1="405.0" x2="0" y2="479.9"><stop offset="0" stop-color="#7e4400"/><stop offset="1" stop-color="#8c5000"/></linearGradient><linearGradient id="tg3" gradientUnits="userSpaceOnUse" x1="0" y1="369.8" x2="0" y2="458.9"><stop offset="0" stop-color="#a9a9a9"/><stop offset="1" stop-color="#b2b2b2"/></linearGradient><linearGradient id="wg3" gradientUnits="userSpaceOnUse" x1="0" y1="405.0" x2="0" y2="479.9"><stop offset="0" stop-color="#858585"/><stop offset="1" stop-color="#959595"/></linearGradient><linearGradient id="ty3" gradientUnits="userSpaceOnUse" x1="0" y1="369.8" x2="0" y2="458.9"><stop offset="0" stop-color="#ecd940"/><stop offset="1" stop-color="#f1e04e"/></linearGradient><linearGradient id="wy3" gradientUnits="userSpaceOnUse" x1="0" y1="405.0" x2="0" y2="479.9"><stop offset="0" stop-color="#a8992a"/><stop offset="1" stop-color="#b0a030"/></linearGradient></defs>
<path d="M700.63 416.99 L700.45 418.15 L700.20 419.32 L699.89 420.49 L699.51 421.66 L699.06 422.83 L698.54 423.99 L697.95 425.15 L697.29 426.31 L696.56 427.45 L695.75 428.59 L694.88 429.72 L693.93 430.85 L692.91 431.96 L691.82 433.06 L690.65 434.16 L689.41 435.25 L688.10 436.34 L686.71 437.44 L685.25 438.51 L683.72 439.58 L681.57 459.90 L683.07 458.78 L684.49 457.64 L685.85 456.49 L687.14 455.32 L688.35 454.14 L689.50 452.95 L690.58 451.75 L691.58 450.54 L692.52 449.32 L693.38 448.10 L694.17 446.87 L694.90 445.63 L695.55 444.39 L696.14 443.15 L696.66 441.91 L697.11 440.67 L697.49 439.43 L697.81 438.19 L698.06 436.95 L698.25 435.72 Z" fill="url(#wb3)" stroke="#00295b" stroke-width="0.5" stroke-linejoin="round"/>
<path d="M683.72 439.58 L682.08 440.65 L680.35 441.71 L678.56 442.74 L676.69 443.76 L674.75 444.75 L672.74 445.72 L670.66 446.66 L668.51 447.57 L666.29 448.46 L664.01 449.31 L661.67 450.14 L659.26 450.93 L656.80 451.69 L654.28 452.42 L651.71 453.11 L649.08 453.77 L646.41 454.41 L643.69 455.00 L640.92 455.57 L638.12 456.09 L635.27 456.58 L632.40 457.03 L629.49 457.43 L626.56 457.79 L623.60 458.10 L620.62 458.36 L617.62 458.57 L614.61 458.73 L611.59 458.83 L608.56 458.89 L605.53 458.90 L602.51 458.87 L599.48 458.79 L596.46 458.66 L593.46 458.48 L590.47 458.24 L587.50 457.96 L584.55 457.62 L581.63 457.24 L578.74 456.82 L575.88 456.35 L573.05 455.85 L570.27 455.30 L567.52 454.73 L564.82 454.11 L562.17 453.47 L559.57 452.79 L557.02 452.08 L554.53 451.34 L552.09 450.56 L549.72 449.75 L547.40 448.91 L545.15 448.04 L542.97 447.14 L540.85 446.22 L538.80 445.26 L536.82 444.28 L534.92 443.28 L533.08 442.26 L531.32 441.21 L529.64 440.15 L528.03 439.06 L526.49 437.96 L525.03 436.85 L523.65 435.72 L522.35 434.60 L521.12 433.48 L519.97 432.35 L518.89 431.21 L517.90 430.06 L516.98 428.90 L516.13 427.73 L515.36 426.56 L514.67 425.37 L514.05 424.18 L513.51 422.98 L513.04 421.79 L512.64 420.58 L512.31 419.38 L512.06 418.19 L511.87 416.99 L514.25 435.72 L514.44 436.98 L514.70 438.25 L515.04 439.53 L515.44 440.80 L515.91 442.08 L516.45 443.35 L517.07 444.63 L517.75 445.90 L518.51 447.17 L519.35 448.43 L520.26 449.69 L521.24 450.93 L522.29 452.17 L523.43 453.40 L524.63 454.62 L525.91 455.83 L527.27 457.02 L528.69 458.20 L530.20 459.36 L531.77 460.50 L533.42 461.62 L535.14 462.72 L536.93 463.80 L538.79 464.86 L540.72 465.89 L542.72 466.89 L544.78 467.87 L546.91 468.81 L549.10 469.73 L551.35 470.61 L553.67 471.46 L556.04 472.28 L558.46 473.06 L560.94 473.80 L563.47 474.50 L566.04 475.17 L568.67 475.80 L571.33 476.38 L574.04 476.92 L576.78 477.42 L579.56 477.88 L582.36 478.29 L585.20 478.65 L588.06 478.97 L590.94 479.24 L593.84 479.47 L596.76 479.65 L599.68 479.78 L602.62 479.86 L605.56 479.90 L608.49 479.89 L611.43 479.83 L614.36 479.72 L617.28 479.56 L620.19 479.36 L623.08 479.11 L625.95 478.81 L628.80 478.46 L631.62 478.08 L634.41 477.64 L637.17 477.16 L639.90 476.64 L642.58 476.08 L645.22 475.47 L647.82 474.82 L650.37 474.14 L652.88 473.41 L655.33 472.65 L657.72 471.85 L660.06 471.02 L662.34 470.15 L664.56 469.25 L666.72 468.32 L668.81 467.35 L670.84 466.36 L672.81 465.35 L674.70 464.30 L676.52 463.24 L678.28 462.14 L679.96 461.03 L681.57 459.90 Z" fill="url(#wo3)" stroke="#844a00" stroke-width="0.5" stroke-linejoin="round"/>
<path d="M683.72 439.58 L681.57 459.90" stroke="#f6f2ea" stroke-width="1.0" fill="none" opacity="0.95"/>
<path d="M606.25 405.00 L606.25 369.75 L608.24 369.76 L610.23 369.79 L612.22 369.84 L614.21 369.91 L616.19 370.00 L618.18 370.11 L620.15 370.23 L622.13 370.38 L624.10 370.55 L626.06 370.74 L628.01 370.95 L629.96 371.17 L631.90 371.42 L633.83 371.69 L635.76 371.98 L637.67 372.28 L639.57 372.61 L641.46 372.96 L643.34 373.32 L645.20 373.71 L647.05 374.11 L648.89 374.54 L650.71 374.98 L652.51 375.45 L654.30 375.93 L656.07 376.44 L657.82 376.96 L659.55 377.51 L661.26 378.07 L662.95 378.65 L664.62 379.26 L666.26 379.88 L667.88 380.52 L669.47 381.18 L671.04 381.86 L672.58 382.56 L674.09 383.28 L675.58 384.02 L677.03 384.77 L678.45 385.55 L679.84 386.34 L681.20 387.15 L682.52 387.98 L683.81 388.83 L685.06 389.70 L686.27 390.58 L687.44 391.48 L688.57 392.40 L689.66 393.34 L690.71 394.29 L691.72 395.26 L692.67 396.25 L693.58 397.25 L694.45 398.26 L695.26 399.29 L696.03 400.34 L696.74 401.40 L697.40 402.48 L698.00 403.56 L698.55 404.66 L699.04 405.78 L699.48 406.90 L699.85 408.04 L700.17 409.18 L700.42 410.34 L700.61 411.50 L700.74 412.68 L700.79 413.86 L700.79 415.04 L700.71 416.24 L700.57 417.44 L700.36 418.64 L700.07 419.85 L699.71 421.05 L699.29 422.26 L698.78 423.46 L698.21 424.66 L697.55 425.86 L696.83 427.05 L696.02 428.23 L695.14 429.40 L694.18 430.56 L693.15 431.71 L692.03 432.85 L690.84 433.98 L689.57 435.11 L688.23 436.24 L686.80 437.36 L685.30 438.48 L683.72 439.58 Z" fill="url(#tb3)" stroke="#ffffff" stroke-width="1.05" stroke-linejoin="round"/>
<path d="M606.25 405.00 L683.72 439.58 L682.07 440.66 L680.34 441.72 L678.54 442.75 L676.67 443.77 L674.72 444.76 L672.70 445.73 L670.61 446.68 L668.46 447.59 L666.23 448.48 L663.94 449.34 L661.59 450.17 L659.18 450.96 L656.70 451.72 L654.17 452.45 L651.59 453.14 L648.95 453.81 L646.27 454.44 L643.54 455.03 L640.76 455.60 L637.95 456.12 L635.09 456.61 L632.21 457.05 L629.29 457.46 L626.34 457.81 L623.37 458.12 L620.38 458.38 L617.38 458.58 L614.36 458.74 L611.33 458.84 L608.29 458.89 L605.25 458.90 L602.21 458.86 L599.18 458.78 L596.16 458.64 L593.14 458.45 L590.15 458.21 L587.17 457.92 L584.22 457.58 L581.29 457.20 L578.39 456.77 L575.53 456.29 L572.70 455.78 L569.91 455.23 L567.16 454.65 L564.46 454.03 L561.81 453.37 L559.21 452.69 L556.66 451.98 L554.16 451.23 L551.73 450.44 L549.36 449.63 L547.05 448.78 L544.80 447.90 L542.62 446.99 L540.51 446.06 L538.46 445.10 L536.49 444.11 L534.59 443.10 L532.76 442.07 L531.01 441.02 L529.34 439.95 L527.73 438.86 L526.21 437.75 L524.76 436.63 L523.39 435.51 L522.10 434.38 L520.88 433.25 L519.74 432.12 L518.68 430.97 L517.70 429.82 L516.79 428.65 L515.96 427.48 L515.20 426.30 L514.53 425.11 L513.92 423.91 L513.39 422.71 L512.94 421.51 L512.55 420.30 L512.24 419.10 L512.00 417.90 L511.83 416.70 L511.73 415.50 L511.70 414.32 L511.73 413.14 L511.83 411.96 L512.00 410.80 L512.22 409.64 L512.51 408.49 L512.86 407.35 L513.27 406.23 L513.74 405.11 Z" fill="url(#to3)" stroke="#ffffff" stroke-width="1.05" stroke-linejoin="round"/>
<path d="M606.25 405.00 L513.74 405.11 L514.27 404.01 L514.85 402.91 L515.49 401.83 L516.18 400.76 L516.92 399.71 L517.72 398.67 L518.56 397.65 L519.46 396.64 L520.40 395.65 L521.38 394.67 L522.41 393.71 L523.49 392.77 L524.60 391.85 L525.76 390.94 L526.96 390.04 L528.19 389.17 L529.47 388.31 L530.78 387.48 L532.12 386.66 L533.50 385.86 L534.91 385.07 L536.35 384.31 L537.82 383.56 L539.33 382.84 L540.86 382.13 L542.42 381.44 L544.00 380.77 L545.61 380.12 L547.25 379.49 L548.91 378.88 L550.59 378.29 L552.29 377.72 L554.02 377.17 L555.76 376.64 L557.52 376.12 L559.31 375.63 L561.10 375.16 L562.92 374.71 L564.75 374.27 L566.60 373.86 L568.46 373.47 L570.33 373.09 L572.22 372.74 L574.12 372.40 Z" fill="url(#tg3)" stroke="#ffffff" stroke-width="1.05" stroke-linejoin="round"/>
<path d="M606.25 405.00 L574.12 372.40 L575.95 372.10 L577.80 371.82 L579.66 371.55 L581.52 371.30 L583.40 371.07 L585.28 370.86 L587.16 370.67 L589.05 370.49 L590.95 370.34 L592.85 370.20 L594.76 370.08 L596.67 369.98 L598.58 369.90 L600.50 369.83 L602.41 369.79 L604.33 369.76 L606.25 369.75 Z" fill="url(#ty3)" stroke="#ffffff" stroke-width="1.05" stroke-linejoin="round"/>
<path d="M694.34 398.14 L695.17 399.17 L695.94 400.22 L696.66 401.28 L697.33 402.36 L697.94 403.45 L698.50 404.55 L699.00 405.66 L699.44 406.79 L699.82 407.93 L700.14 409.08 L700.40 410.24 L700.60 411.41 L700.73 412.58 L700.79 413.77 L700.79 414.96 L700.72 416.16 L700.58 417.36 L700.37 418.57 L700.09 419.78 L699.74 420.99 L699.31 422.20 L698.81 423.41 L698.23 424.61 L697.58 425.81 L696.85 427.00 L696.05 428.19 L695.17 429.36 L694.21 430.53 L693.17 431.68 L692.06 432.83 L690.86 433.96 L689.59 435.10 L688.24 436.23 L686.81 437.36 L685.30 438.48 L683.72 439.58 L682.06 440.66 L680.32 441.73 L678.51 442.77 L676.62 443.79 L674.66 444.79 L672.63 445.77 L670.53 446.72 L668.36 447.64 L666.12 448.53 L663.81 449.39 L661.44 450.22 L659.01 451.02 L656.52 451.78 L653.97 452.51 L651.37 453.20 L648.71 453.86 L646.01 454.50 L643.26 455.09 L640.46 455.66 L637.63 456.18 L634.75 456.66 L631.85 457.11 L628.91 457.50 L625.94 457.86 L622.96 458.16 L619.95 458.41 L616.92 458.61 L613.88 458.75 L610.83 458.85 L607.78 458.89 L604.72 458.89 L601.67 458.85 L598.62 458.75 L595.58 458.61 L592.55 458.41 L589.54 458.16 L586.56 457.86 L583.59 457.50 L580.65 457.11 L577.75 456.66 L574.87 456.18 L572.04 455.66 L569.24 455.09 L566.49 454.50 L563.79 453.86 L561.13 453.20 L558.53 452.51 L555.98 451.78 L553.49 451.02 L551.06 450.22 L548.69 449.39 L546.38 448.53 L544.14 447.64 L541.97 446.72 L539.87 445.77 L537.84 444.79 L535.88 443.79 L533.99 442.77 L532.18 441.73 L530.44 440.66 L528.78 439.58 L527.20 438.48 L525.69 437.36 L524.26 436.23 L522.91 435.10 L521.64 433.96 L520.44 432.83 L519.33 431.68 L518.29 430.53 L517.33 429.36 L516.45 428.19 L515.65 427.00 L514.92 425.81 L514.27 424.61 L513.69 423.41 L513.19 422.20 L512.76 420.99 L512.41 419.78 L512.13 418.57 L511.92 417.36 L511.78 416.16 L511.71 414.96 L511.71 413.77 L511.77 412.58 L511.90 411.41 L512.10 410.24 L512.36 409.08 L512.68 407.93 L513.06 406.79 L513.50 405.66 L514.00 404.55 L514.56 403.45 L515.17 402.36 L515.84 401.28 L516.56 400.22 L517.33 399.17 L518.16 398.14" fill="none" stroke="#fffaf0" stroke-width="0.95" opacity="0.85"/>
</g>
<g id="leaders">
<polyline points="276.50,198.25 285.50,186.25 291.50,186.25" fill="none" stroke="#404040" stroke-width="0.9"/>
<polyline points="262.70,292.25 290.00,302.30 296.00,302.30" fill="none" stroke="#404040" stroke-width="0.9"/>
<polyline points="84.20,224.30 109.25,223.25" fill="none" stroke="#404040" stroke-width="0.9"/>
<polyline points="513.20,185.20 555.50,189.70" fill="none" stroke="#404040" stroke-width="0.9"/>
<polyline points="595.70,185.50 595.70,177.60 624.00,177.60" fill="none" stroke="#404040" stroke-width="0.9"/>
<polyline points="695.60,218.10 702.50,206.90 707.50,206.90" fill="none" stroke="#404040" stroke-width="0.9"/>
<polyline points="536.50,284.25 520.70,295.60 515.25,295.60" fill="none" stroke="#404040" stroke-width="0.9"/>
<polyline points="85.20,382.80 170.70,369.60 171.75,372.70" fill="none" stroke="#404040" stroke-width="0.9"/>
<polyline points="123.80,453.80 101.00,474.70" fill="none" stroke="#404040" stroke-width="0.9"/>
<polyline points="282.60,464.10 305.90,472.00 311.10,472.00" fill="none" stroke="#404040" stroke-width="0.9"/>
<polyline points="686.75,390.30 698.00,383.30 703.70,383.30" fill="none" stroke="#404040" stroke-width="0.9"/>
<polyline points="565.60,476.90 531.50,492.40 526.25,492.40" fill="none" stroke="#404040" stroke-width="0.9"/>
</g>
<g id="texts" fill="#000" stroke-linejoin="round" style="filter:grayscale(1)">
<text id="title"><tspan x="39.99" y="44.75" font-family='"Noto Sans CJK JP","Liberation Sans",sans-serif' font-weight="700" font-size="32.053" textLength="32.313" lengthAdjust="spacingAndGlyphs">⑦</tspan><tspan x="71.78" y="44.25" font-family='"DejaVu Sans","Liberation Sans",sans-serif' font-weight="400" font-size="32.063" stroke="#000" stroke-width="1.2" textLength="91.790" lengthAdjust="spacingAndGlyphs">2023</tspan><tspan x="162.0" y="44.38" font-family='"Noto Sans CJK JP","Liberation Sans",sans-serif' font-weight="500" font-size="31.373" stroke="#000" stroke-width="0.7" letter-spacing="0.75">年度 </tspan><tspan x="237.0" y="44.38" font-family='"Noto Sans CJK JP","Liberation Sans",sans-serif' font-weight="500" font-size="31.373" stroke="#000" stroke-width="0.7" letter-spacing="0.542">食料支援申込者</tspan><tspan x="459.3" y="44.38" font-family='"Noto Sans CJK JP","Liberation Sans",sans-serif' font-weight="500" font-size="31.373" stroke="#000" stroke-width="0.7" letter-spacing="0.575">へのアンケート</tspan><tspan x="682.75" y="44.38" font-family='"Noto Sans CJK JP","Liberation Sans",sans-serif' font-weight="500" font-size="31.373" stroke="#000" stroke-width="0.7" letter-spacing="-0.5">調査</tspan></text>
<text id="sub1"><tspan x="34.75" y="86.28" font-family='"Noto Sans CJK JP","Liberation Sans",sans-serif' font-weight="700" font-size="24.723" stroke="#000" stroke-width="0.35">米</tspan><tspan x="62.0" y="86.28" font-family='"Noto Sans CJK JP","Liberation Sans",sans-serif' font-weight="700" font-size="24.723" stroke="#000" stroke-width="0.35">が</tspan><tspan x="88.62" y="86.28" font-family='"Noto Sans CJK JP","Liberation Sans",sans-serif' font-weight="700" font-size="24.723" stroke="#000" stroke-width="0.35">買</tspan><tspan x="112.25" y="86.28" font-family='"Noto Sans CJK JP","Liberation Sans",sans-serif' font-weight="700" font-size="24.723" stroke="#000" stroke-width="0.35" letter-spacing="-0.844">えないときがあった</tspan><tspan x="329.97" y="84.25" font-family='"DejaVu Sans","Liberation Sans",sans-serif' font-weight="400" font-size="30.0" stroke="#000" stroke-width="0.7" textLength="49.702" lengthAdjust="spacingAndGlyphs">65</tspan><tspan x="377.62" y="85.25" font-family='"DejaVu Sans","Liberation Sans",sans-serif' font-weight="400" font-size="26.341" stroke="#000" stroke-width="0.5" textLength="22.528" lengthAdjust="spacingAndGlyphs">%</tspan></text>
<text id="sub2"><tspan x="34.75" y="117.78" font-family='"Noto Sans CJK JP","Liberation Sans",sans-serif' font-weight="700" font-size="24.723" stroke="#000" stroke-width="0.35" letter-spacing="-0.033">子どもの</tspan><tspan x="134.0" y="117.78" font-family='"Noto Sans CJK JP","Liberation Sans",sans-serif' font-weight="700" font-size="24.723" stroke="#000" stroke-width="0.35">服</tspan><tspan x="159.62" y="117.78" font-family='"Noto Sans CJK JP","Liberation Sans",sans-serif' font-weight="700" font-size="24.723" stroke="#000" stroke-width="0.35">や</tspan><tspan x="185.38" y="117.78" font-family='"Noto Sans CJK JP","Liberation Sans",sans-serif' font-weight="700" font-size="24.723" stroke="#000" stroke-width="0.35">靴</tspan><tspan x="211.12" y="117.78" font-family='"Noto Sans CJK JP","Liberation Sans",sans-serif' font-weight="700" font-size="24.723" stroke="#000" stroke-width="0.35">が</tspan><tspan x="238.12" y="117.78" font-family='"Noto Sans CJK JP","Liberation Sans",sans-serif' font-weight="700" font-size="24.723" stroke="#000" stroke-width="0.35">買</tspan><tspan x="264.65" y="117.78" font-family='"Noto Sans CJK JP","Liberation Sans",sans-serif' font-weight="700" font-size="24.723" stroke="#000" stroke-width="0.35" letter-spacing="-1.05">えないときがあった</tspan><tspan x="479.48" y="116.52" font-family='"DejaVu Sans","Liberation Sans",sans-serif' font-weight="400" font-size="30.452" stroke="#000" stroke-width="0.7" textLength="45.826" lengthAdjust="spacingAndGlyphs">90</tspan><tspan x="527.32" y="117.72" font-family='"DejaVu Sans","Liberation Sans",sans-serif' font-weight="400" font-size="26.927" stroke="#000" stroke-width="0.5" textLength="24.189" lengthAdjust="spacingAndGlyphs">%</tspan></text>
<text id="ct1"><tspan x="35.0" y="154.0" font-family='"Noto Sans CJK JP","Liberation Sans",sans-serif' font-weight="700" font-size="18.4" stroke="#000" stroke-width="0.35" letter-spacing="-1.5">食料</tspan><tspan x="63.55" y="154.0" font-family='"Noto Sans CJK JP","Liberation Sans",sans-serif' font-weight="700" font-size="18.4" stroke="#000" stroke-width="0.35">（</tspan><tspan x="82.85" y="154.0" font-family='"Noto Sans CJK JP","Liberation Sans",sans-serif' font-weight="700" font-size="18.4" stroke="#000" stroke-width="0.35" letter-spacing="-0.36">米などの主食</tspan><tspan x="191.75" y="154.0" font-family='"Noto Sans CJK JP","Liberation Sans",sans-serif' font-weight="700" font-size="18.4" stroke="#000" stroke-width="0.35">）</tspan><tspan x="204.25" y="154.0" font-family='"Noto Sans CJK JP","Liberation Sans",sans-serif' font-weight="700" font-size="18.4" stroke="#000" stroke-width="0.35" letter-spacing="-1.445">を買えないときがあった</tspan></text>
<text id="ct2"><tspan x="448.5" y="154.05" font-family='"Noto Sans CJK JP","Liberation Sans",sans-serif' font-weight="700" font-size="18.4" stroke="#000" stroke-width="0.35" letter-spacing="-1.25">食料</tspan><tspan x="478.92" y="154.05" font-family='"Noto Sans CJK JP","Liberation Sans",sans-serif' font-weight="700" font-size="18.4" stroke="#000" stroke-width="0.35">（</tspan><tspan x="498.08" y="154.05" font-family='"Noto Sans CJK JP","Liberation Sans",sans-serif' font-weight="700" font-size="18.4" stroke="#000" stroke-width="0.35">肉</tspan><tspan x="512.05" y="154.05" font-family='"Noto Sans CJK JP","Liberation Sans",sans-serif' font-weight="700" font-size="18.4" stroke="#000" stroke-width="0.35">・</tspan><tspan x="527.52" y="154.05" font-family='"Noto Sans CJK JP","Liberation Sans",sans-serif' font-weight="700" font-size="18.4" stroke="#000" stroke-width="0.35">魚</tspan><tspan x="546.4" y="154.05" font-family='"Noto Sans CJK JP","Liberation Sans",sans-serif' font-weight="700" font-size="18.4" stroke="#000" stroke-width="0.35">）</tspan><tspan x="559.55" y="154.05" font-family='"Noto Sans CJK JP","Liberation Sans",sans-serif' font-weight="700" font-size="18.4" stroke="#000" stroke-width="0.35" letter-spacing="-1.615">を買えないときがあった</tspan></text>
<text id="ct3"><tspan x="55.0" y="350.7" font-family='"Noto Sans CJK JP","Liberation Sans",sans-serif' font-weight="700" font-size="18.4" stroke="#000" stroke-width="0.35" letter-spacing="-1.156">子どもの服や靴を買えないときがあった</tspan></text>
<text id="ct4"><tspan x="432.75" y="350.7" font-family='"Noto Sans CJK JP","Liberation Sans",sans-serif' font-weight="700" font-size="18.4" stroke="#000" stroke-width="0.35" letter-spacing="-0.4">玩具</tspan><tspan x="465.35" y="350.7" font-family='"Noto Sans CJK JP","Liberation Sans",sans-serif' font-weight="700" font-size="18.4" stroke="#000" stroke-width="0.35">・</tspan><tspan x="479.75" y="350.7" font-family='"Noto Sans CJK JP","Liberation Sans",sans-serif' font-weight="700" font-size="18.4" stroke="#000" stroke-width="0.35" letter-spacing="-1.2">文具</tspan><tspan x="511.55" y="350.7" font-family='"Noto Sans CJK JP","Liberation Sans",sans-serif' font-weight="700" font-size="18.4" stroke="#000" stroke-width="0.35">・</tspan><tspan x="526.55" y="350.7" font-family='"Noto Sans CJK JP","Liberation Sans",sans-serif' font-weight="700" font-size="18.4" stroke="#000" stroke-width="0.35" letter-spacing="0.6">学用品</tspan><tspan x="585.25" y="350.7" font-family='"Noto Sans CJK JP","Liberation Sans",sans-serif' font-weight="700" font-size="18.4" stroke="#000" stroke-width="0.35" letter-spacing="-1.245">を買えないときがあった</tspan></text>
<text id="foot"><tspan x="186.25" y="526.67" font-family='"Noto Serif CJK SC","Liberation Serif",serif' font-weight="600" font-size="14.105">〔</tspan><tspan x="201.25" y="526.67" font-family='"Noto Serif CJK SC","Liberation Serif",serif' font-weight="600" font-size="14.105" letter-spacing="1.6">出典</tspan><tspan x="232.45" y="526.67" font-family='"Noto Serif CJK SC","Liberation Serif",serif' font-weight="600" font-size="14.105">〕</tspan><tspan x="247.25" y="526.67" font-family='"Noto Serif CJK SC","Liberation Serif",serif' font-weight="600" font-size="14.105" letter-spacing="1.5">こども家庭庁</tspan><tspan x="331.62" y="526.67" font-family='"Noto Serif CJK SC","Liberation Serif",serif' font-weight="600" font-size="14.105">「</tspan><tspan x="346.75" y="526.67" font-family='"Noto Serif CJK SC","Liberation Serif",serif' font-weight="600" font-size="14.105">第</tspan><tspan x="362.25" y="526.67" font-family='"Noto Serif CJK SC","Liberation Serif",serif' font-weight="600" font-size="14.105">１</tspan><tspan x="376.0" y="526.67" font-family='"Noto Serif CJK SC","Liberation Serif",serif' font-weight="600" font-size="14.105" letter-spacing="1.406">回こどもの貧困対策</tspan><tspan x="510.5" y="526.67" font-family='"Noto Serif CJK SC","Liberation Serif",serif' font-weight="600" font-size="14.105">・</tspan><tspan x="519.0" y="526.67" font-family='"Noto Serif CJK SC","Liberation Serif",serif' font-weight="600" font-size="14.105" letter-spacing="1.375">ひとり</tspan><tspan x="567.1" y="526.67" font-family='"Noto Serif CJK SC","Liberation Serif",serif' font-weight="600" font-size="14.105" letter-spacing="1.108">親家庭支援部会</tspan><tspan x="672.55" y="526.67" font-family='"Noto Serif CJK SC","Liberation Serif",serif' font-weight="600" font-size="14.105">」</tspan><tspan x="682.29" y="525.78" font-family='"Liberation Serif","Noto Serif CJK SC",serif' font-weight="400" font-size="16.11" textLength="70.842" lengthAdjust="spacingAndGlyphs">(2023.7.28)</tspan><tspan x="757.0" y="526.67" font-family='"Noto Serif CJK SC","Liberation Serif",serif' font-weight="600" font-size="14.105" letter-spacing="-1.7">資料</tspan></text>
<text id="blk0"><tspan x="293.0" y="183.88" font-family='"Noto Sans CJK JP","Liberation Sans",sans-serif' font-weight="700" font-size="14.5" stroke="#000" stroke-width="0.35" letter-spacing="-0.875">よくあった</tspan><tspan x="308.2" y="203.45" font-family='"DejaVu Sans","Liberation Sans",sans-serif' font-weight="400" font-size="15.484" stroke="#000" stroke-width="0.75" textLength="27.453" lengthAdjust="spacingAndGlyphs">22</tspan><tspan x="335.09" y="203.32" font-family='"DejaVu Sans","Liberation Sans",sans-serif' font-weight="400" font-size="15.484" stroke="#000" stroke-width="0.75" textLength="12.030" lengthAdjust="spacingAndGlyphs">%</tspan></text>
<text id="blk1"><tspan x="290.25" y="293.38" font-family='"Noto Sans CJK JP","Liberation Sans",sans-serif' font-weight="700" font-size="14.5" stroke="#000" stroke-width="0.35" letter-spacing="-0.125">ときどきあった</tspan><tspan x="320.61" y="313.4" font-family='"DejaVu Sans","Liberation Sans",sans-serif' font-weight="400" font-size="15.871" stroke="#000" stroke-width="0.75" textLength="25.841" lengthAdjust="spacingAndGlyphs">43</tspan><tspan x="347.07" y="313.4" font-family='"DejaVu Sans","Liberation Sans",sans-serif' font-weight="400" font-size="15.871" stroke="#000" stroke-width="0.75" textLength="12.923" lengthAdjust="spacingAndGlyphs">%</tspan></text>
<text id="blk2"><tspan x="19.5" y="208.52" font-family='"Noto Sans CJK JP","Liberation Sans",sans-serif' font-weight="700" font-size="14.5" stroke="#000" stroke-width="0.35" letter-spacing="-0.6">ほとんど</tspan><tspan x="19.25" y="226.88" font-family='"Noto Sans CJK JP","Liberation Sans",sans-serif' font-weight="700" font-size="14.5" stroke="#000" stroke-width="0.35" letter-spacing="0.75">なかった</tspan><tspan x="29.5" y="247.0" font-family='"DejaVu Sans","Liberation Sans",sans-serif' font-weight="400" font-size="15.484" stroke="#000" stroke-width="0.75" textLength="26.339" lengthAdjust="spacingAndGlyphs">24</tspan><tspan x="56.34" y="246.88" font-family='"DejaVu Sans","Liberation Sans",sans-serif' font-weight="400" font-size="15.484" stroke="#000" stroke-width="0.75" textLength="12.030" lengthAdjust="spacingAndGlyphs">%</tspan></text>
<text id="blk3"><tspan x="451.5" y="184.6" font-family='"Noto Sans CJK JP","Liberation Sans",sans-serif' font-weight="700" font-size="14.5" stroke="#000" stroke-width="0.35" letter-spacing="-0.6">ほとんど</tspan><tspan x="451.25" y="204.38" font-family='"Noto Sans CJK JP","Liberation Sans",sans-serif' font-weight="700" font-size="14.5" stroke="#000" stroke-width="0.35" letter-spacing="0.65">なかった</tspan><tspan x="464.13" y="222.62" font-family='"DejaVu Sans","Liberation Sans",sans-serif' font-weight="400" font-size="15.484" stroke="#000" stroke-width="0.75" textLength="21.629" lengthAdjust="spacingAndGlyphs">10</tspan><tspan x="487.56" y="222.62" font-family='"DejaVu Sans","Liberation Sans",sans-serif' font-weight="400" font-size="15.484" stroke="#000" stroke-width="0.75" textLength="12.831" lengthAdjust="spacingAndGlyphs">%</tspan></text>
<text id="blk4"><tspan x="628.35" y="180.15" font-family='"Noto Sans CJK JP","Liberation Sans",sans-serif' font-weight="700" font-size="14.5" stroke="#000" stroke-width="0.35" letter-spacing="0.75">なかった </tspan><tspan x="694.48" y="180.08" font-family='"DejaVu Sans","Liberation Sans",sans-serif' font-weight="400" font-size="15.355" stroke="#000" stroke-width="0.75" textLength="13.317" lengthAdjust="spacingAndGlyphs">3</tspan><tspan x="708.54" y="180.08" font-family='"DejaVu Sans","Liberation Sans",sans-serif' font-weight="400" font-size="15.355" stroke="#000" stroke-width="0.75" textLength="13.405" lengthAdjust="spacingAndGlyphs">%</tspan></text>
<text id="blk5"><tspan x="710.25" y="210.38" font-family='"Noto Sans CJK JP","Liberation Sans",sans-serif' font-weight="700" font-size="14.5" stroke="#000" stroke-width="0.35" letter-spacing="-0.588">よくあった</tspan><tspan x="725.58" y="229.8" font-family='"DejaVu Sans","Liberation Sans",sans-serif' font-weight="400" font-size="15.355" stroke="#000" stroke-width="0.75" textLength="26.132" lengthAdjust="spacingAndGlyphs">42</tspan><tspan x="752.04" y="229.68" font-family='"DejaVu Sans","Liberation Sans",sans-serif' font-weight="400" font-size="15.355" stroke="#000" stroke-width="0.75" textLength="13.513" lengthAdjust="spacingAndGlyphs">%</tspan></text>
<text id="blk6"><tspan x="414.4" y="289.75" font-family='"Noto Sans CJK JP","Liberation Sans",sans-serif' font-weight="700" font-size="14.5" stroke="#000" stroke-width="0.35">ときどきあった</tspan><tspan x="446.0" y="309.12" font-family='"DejaVu Sans","Liberation Sans",sans-serif' font-weight="400" font-size="15.742" stroke="#000" stroke-width="0.75" textLength="25.932" lengthAdjust="spacingAndGlyphs">45</tspan><tspan x="472.84" y="309.25" font-family='"DejaVu Sans","Liberation Sans",sans-serif' font-weight="400" font-size="15.742" stroke="#000" stroke-width="0.75" textLength="12.122" lengthAdjust="spacingAndGlyphs">%</tspan></text>
<text id="blk7"><tspan x="21.75" y="382.25" font-family='"Noto Sans CJK JP","Liberation Sans",sans-serif' font-weight="700" font-size="14.5" stroke="#000" stroke-width="0.35" letter-spacing="-0.5">ほとんど</tspan><tspan x="21.05" y="401.12" font-family='"Noto Sans CJK JP","Liberation Sans",sans-serif' font-weight="700" font-size="14.5" stroke="#000" stroke-width="0.35" letter-spacing="0.65">なかった</tspan><tspan x="37.85" y="420.98" font-family='"DejaVu Sans","Liberation Sans",sans-serif' font-weight="400" font-size="16.0" stroke="#000" stroke-width="0.75" textLength="12.226" lengthAdjust="spacingAndGlyphs">8</tspan><tspan x="51.05" y="420.98" font-family='"DejaVu Sans","Liberation Sans",sans-serif' font-weight="400" font-size="16.0" stroke="#000" stroke-width="0.75" textLength="13.602" lengthAdjust="spacingAndGlyphs">%</tspan></text>
<text id="blk8"><tspan x="42.4" y="492.15" font-family='"Noto Sans CJK JP","Liberation Sans",sans-serif' font-weight="700" font-size="14.5" stroke="#000" stroke-width="0.35" letter-spacing="-0.067">ときどきあった</tspan><tspan x="74.89" y="510.5" font-family='"DejaVu Sans","Liberation Sans",sans-serif' font-weight="400" font-size="15.871" stroke="#000" stroke-width="0.75" textLength="25.720" lengthAdjust="spacingAndGlyphs">32</tspan><tspan x="101.38" y="510.5" font-family='"DejaVu Sans","Liberation Sans",sans-serif' font-weight="400" font-size="15.871" stroke="#000" stroke-width="0.75" textLength="11.308" lengthAdjust="spacingAndGlyphs">%</tspan></text>
<text id="blk9"><tspan x="311.65" y="468.45" font-family='"Noto Sans CJK JP","Liberation Sans",sans-serif' font-weight="700" font-size="14.5" stroke="#000" stroke-width="0.35" letter-spacing="-0.725">よくあった</tspan><tspan x="327.64" y="488.25" font-family='"DejaVu Sans","Liberation Sans",sans-serif' font-weight="400" font-size="15.742" stroke="#000" stroke-width="0.75" textLength="25.608" lengthAdjust="spacingAndGlyphs">58</tspan><tspan x="354.51" y="488.25" font-family='"DejaVu Sans","Liberation Sans",sans-serif' font-weight="400" font-size="15.742" stroke="#000" stroke-width="0.75" textLength="11.749" lengthAdjust="spacingAndGlyphs">%</tspan></text>
<text id="blk10"><tspan x="710.25" y="388.98" font-family='"Noto Sans CJK JP","Liberation Sans",sans-serif' font-weight="700" font-size="14.5" stroke="#000" stroke-width="0.35" letter-spacing="-0.688">よくあった</tspan><tspan x="725.84" y="408.4" font-family='"DejaVu Sans","Liberation Sans",sans-serif' font-weight="400" font-size="15.871" stroke="#000" stroke-width="0.75" textLength="25.863" lengthAdjust="spacingAndGlyphs">37</tspan><tspan x="752.34" y="408.4" font-family='"DejaVu Sans","Liberation Sans",sans-serif' font-weight="400" font-size="15.871" stroke="#000" stroke-width="0.75" textLength="12.439" lengthAdjust="spacingAndGlyphs">%</tspan></text>
<text id="blk11"><tspan x="433.6" y="479.18" font-family='"Noto Sans CJK JP","Liberation Sans",sans-serif' font-weight="700" font-size="14.5" stroke="#000" stroke-width="0.35" letter-spacing="-0.033">ときどきあった</tspan><tspan x="465.47" y="498.08" font-family='"DejaVu Sans","Liberation Sans",sans-serif' font-weight="400" font-size="16.0" stroke="#000" stroke-width="0.75" textLength="25.288" lengthAdjust="spacingAndGlyphs">38</tspan><tspan x="491.69" y="498.08" font-family='"DejaVu Sans","Liberation Sans",sans-serif' font-weight="400" font-size="16.0" stroke="#000" stroke-width="0.75" textLength="12.322" lengthAdjust="spacingAndGlyphs">%</tspan></text>
</g>
</svg>
</body>
</html>
